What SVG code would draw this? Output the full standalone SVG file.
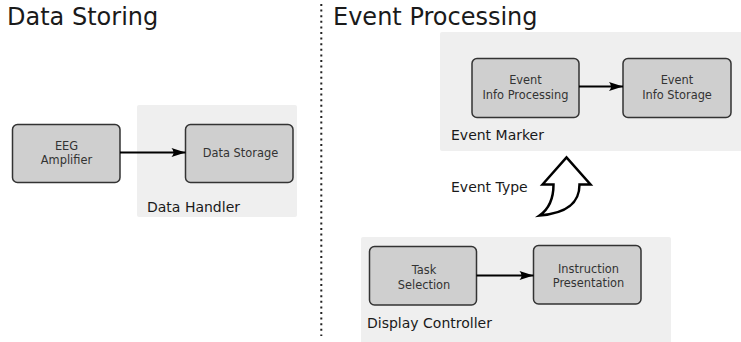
<svg xmlns="http://www.w3.org/2000/svg" width="741" height="342" viewBox="0 0 741 342">
<defs>
<style>
.title{font-family:"DejaVu Sans",sans-serif;font-size:24px;fill:#1a1a1a}
.grp{fill:#efefef;stroke:none}
.glabel{font-family:"DejaVu Sans",sans-serif;font-size:14px;fill:#1a1a1a}
.box{fill:#cfcfcf;stroke:#333;stroke-width:1.5}
.blabel{font-family:"DejaVu Sans",sans-serif;font-size:11.4px;fill:#333;text-anchor:middle}
.conn{stroke:#000;stroke-width:2;fill:none;marker-end:url(#ah)}
</style>
<marker id="ah" markerUnits="userSpaceOnUse" markerWidth="16" markerHeight="12" viewBox="-15 -6 16 12" refX="0" refY="0" orient="auto">
<path d="M0,0 L-14,-4.5 Q-10,0 -14,4.5 Z" fill="#000"/>
</marker>
</defs>
<rect width="741" height="342" fill="#fff"/>
<text class="title" x="7" y="25">Data Storing</text>
<text class="title" x="333" y="25">Event Processing</text>
<line x1="321.3" y1="4" x2="321.3" y2="336" stroke="#222" stroke-width="2" stroke-dasharray="2 3.6"/>

<g id="data-handler">
<rect class="grp" x="137" y="105" width="160" height="112" rx="2"/>
<text class="glabel" x="147" y="212">Data Handler</text>
</g>
<g id="event-marker">
<rect class="grp" x="440" y="32" width="303" height="119" rx="2"/>
<text class="glabel" x="451" y="140">Event Marker</text>
</g>
<g id="display-controller">
<rect class="grp" x="361" y="237" width="310" height="107" rx="2"/>
<text class="glabel" x="367" y="328">Display Controller</text>
</g>

<g id="eeg-amplifier">
<rect class="box" x="12.5" y="124.5" width="107.5" height="58" rx="5"/>
<text class="blabel" x="66.5" y="149.5">EEG</text>
<text class="blabel" x="66.5" y="164">Amplifier</text>
</g>
<g id="data-storage">
<rect class="box" x="185.5" y="124.5" width="107.5" height="58" rx="5"/>
<text class="blabel" x="240.5" y="157">Data Storage</text>
</g>
<g id="event-info-processing">
<rect class="box" x="472" y="58.5" width="107" height="59" rx="5"/>
<text class="blabel" x="525.5" y="83.5">Event</text>
<text class="blabel" x="525.5" y="98.5">Info Processing</text>
</g>
<g id="event-info-storage">
<rect class="box" x="623" y="58.5" width="108" height="59" rx="5"/>
<text class="blabel" x="677" y="83.5">Event</text>
<text class="blabel" x="677" y="98.5">Info Storage</text>
</g>
<g id="task-selection">
<rect class="box" x="369.5" y="246.5" width="107" height="58.5" rx="5"/>
<text class="blabel" x="424" y="273.5">Task</text>
<text class="blabel" x="424" y="288.5">Selection</text>
</g>
<g id="instruction-presentation">
<rect class="box" x="533.5" y="245.5" width="107.5" height="58.5" rx="5"/>
<text class="blabel" x="588.5" y="272.5">Instruction</text>
<text class="blabel" x="588.5" y="287">Presentation</text>
</g>

<g id="connectors">
<line class="conn" x1="120" y1="152.5" x2="185.5" y2="152.5"/>
<line class="conn" x1="579" y1="86.5" x2="623" y2="86.5"/>
<line class="conn" x1="476.5" y1="275.5" x2="533.5" y2="275.5"/>
<path d="M542.5,184.5 L566.5,157.5 L590.5,184.5 L579.5,184.5 C579.5,201 570,213 539.5,215.5 C549,209 553.5,199 553.5,184.5 Z" fill="#fff" stroke="#000" stroke-width="2.5" stroke-linejoin="miter"/>
<text class="glabel" x="451" y="192">Event Type</text>
</g>
</svg>
